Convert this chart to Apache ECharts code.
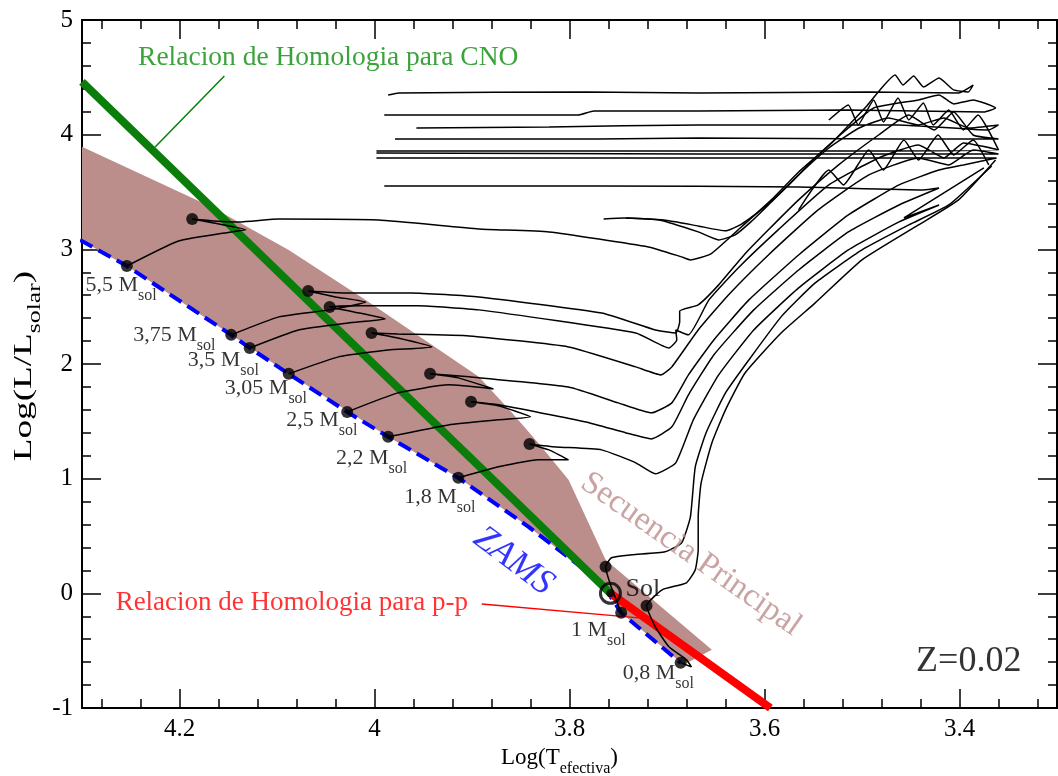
<!DOCTYPE html>
<html>
<head>
<meta charset="utf-8">
<title>Diagrama HR</title>
<script src="https://cdn.jsdelivr.net/npm/echarts@6/dist/echarts.min.js"></script>
<style>
  html, body { margin: 0; padding: 0; background: #fff; }
  #chart { width: 1058px; height: 776px; }
</style>
</head>
<body>
<div id="chart"></div>
<script>
// ejes
var xMajor = [3.4, 3.6, 3.8, 4.0, 4.2];
var xMinor = [3.32, 3.36, 3.44, 3.48, 3.52, 3.56, 3.64, 3.68, 3.72, 3.76,
              3.84, 3.88, 3.92, 3.96, 4.04, 4.08, 4.12, 4.16, 4.24, 4.28];

// banda de secuencia principal [logT, logL]
var band = [[4.302, 3.902], [4.167, 3.370], [4.088, 2.995], [4.009, 2.559], [3.893, 1.888],
            [3.859, 1.574], [3.832, 1.312], [3.801, 0.990], [3.763, 0.292], [3.654, -0.493],
            [3.683, -0.623], [3.747, -0.170], [3.767, 0.092], [3.842, 0.580], [3.914, 1.007],
            [3.986, 1.365], [4.088, 1.914], [4.147, 2.254], [4.254, 2.855], [4.302, 3.082]];

var zams = [[4.302, 3.082], [4.254, 2.855], [4.147, 2.254], [4.128, 2.140], [4.088, 1.914],
            [4.028, 1.582], [3.986, 1.365], [3.914, 1.007], [3.842, 0.580], [3.767, 0.092],
            [3.747, -0.170], [3.686, -0.606]];

var cnoLine = [[4.30, 4.46], [3.758, 0.0]];
var ppLine = [[3.758, 0.0], [3.594, -1.0]];
var cnoLeader = [[4.154, 4.512], [4.225, 3.893]];
var ppLeader = [[3.890, -0.092], [3.729, -0.214]];

// trazas evolutivas
var track55 = [[4.254, 2.855], [4.201, 3.073], [4.147, 3.152], [4.132, 3.170], [4.165, 3.230], [4.187, 3.265],
  [4.165, 3.248], [4.139, 3.239], [4.098, 3.265], [3.996, 3.256], [3.893, 3.178], [3.821, 3.152],
  [3.719, 3.021], [3.685, 2.934], [3.676, 2.908], [3.655, 2.960], [3.627, 3.170], [3.593, 3.431],
  [3.565, 3.675], [3.531, 3.928], [3.496, 4.242], [3.466, 4.520], [3.458, 4.433], [3.447, 4.512],
  [3.437, 4.416], [3.421, 4.494], [3.406, 4.390], [3.391, 4.372], [3.386, 4.433], [3.401, 4.364],
  [3.493, 4.372], [3.668, 4.364], [3.782, 4.372], [3.975, 4.364], [3.986, 4.346]];
var trackE1 = [[3.765, 3.265], [3.744, 3.274], [3.703, 3.256], [3.668, 3.204], [3.640, 3.161], [3.625, 3.213],
  [3.606, 3.326], [3.575, 3.562], [3.545, 3.823], [3.514, 4.058], [3.488, 4.233], [3.442, 4.303],
  [3.421, 4.346], [3.406, 4.268], [3.386, 4.303], [3.363, 4.233], [3.375, 4.198], [3.514, 4.215],
  [3.668, 4.207], [3.775, 4.207], [3.791, 4.172], [3.924, 4.172], [3.990, 4.172]];
var trackE2 = [[3.742, 3.274], [3.708, 3.256], [3.668, 3.152], [3.647, 3.082], [3.630, 3.126], [3.614, 3.239],
  [3.596, 3.387], [3.565, 3.649], [3.534, 3.884], [3.503, 4.058], [3.473, 4.146], [3.442, 4.085],
  [3.416, 4.146], [3.391, 4.058], [3.360, 4.085], [3.370, 4.041], [3.462, 4.085], [3.668, 4.085],
  [3.821, 4.067], [3.957, 4.058]];
var track375 = [[4.147, 2.254], [4.098, 2.411], [4.046, 2.472], [4.009, 2.541], [4.040, 2.585], [4.068, 2.637],
  [4.030, 2.620], [3.962, 2.620], [3.893, 2.585], [3.767, 2.445], [3.712, 2.297], [3.691, 2.271],
  [3.687, 2.367], [3.687, 2.462], [3.668, 2.515], [3.647, 2.690], [3.621, 2.951], [3.596, 3.170],
  [3.565, 3.431], [3.524, 3.736], [3.483, 3.997], [3.452, 4.172], [3.426, 4.041], [3.406, 4.198],
  [3.386, 3.997], [3.360, 3.963], [3.462, 3.963], [3.668, 3.971], [3.770, 3.963], [3.979, 3.963]];
var track35 = [[4.128, 2.140], [4.078, 2.297], [4.027, 2.358], [3.989, 2.393], [4.021, 2.454], [4.046, 2.498],
  [4.016, 2.507], [3.955, 2.507], [3.893, 2.472], [3.732, 2.271], [3.698, 2.140], [3.690, 2.210],
  [3.691, 2.297], [3.678, 2.254], [3.657, 2.559], [3.627, 2.838], [3.586, 3.170], [3.534, 3.562],
  [3.483, 3.797], [3.442, 3.910], [3.416, 3.797], [3.396, 3.928], [3.360, 3.867], [3.565, 3.858],
  [3.770, 3.858], [3.998, 3.858]];
var track305 = [[4.088, 1.914], [4.037, 2.062], [3.986, 2.123], [3.941, 2.149], [3.976, 2.227], [4.003, 2.271],
  [3.976, 2.262], [3.903, 2.245], [3.801, 2.149], [3.732, 1.975], [3.706, 1.905], [3.695, 1.975],
  [3.668, 2.297], [3.637, 2.602], [3.596, 2.951], [3.545, 3.344], [3.493, 3.649], [3.442, 3.797],
  [3.411, 3.736], [3.386, 3.867], [3.360, 3.832], [3.668, 3.832], [3.998, 3.840]];
var track25 = [[4.028, 1.582], [3.976, 1.748], [3.924, 1.818], [3.878, 1.783], [3.914, 1.879], [3.943, 1.914],
  [3.903, 1.888], [3.801, 1.800], [3.750, 1.661], [3.716, 1.574], [3.695, 1.661], [3.678, 1.905],
  [3.652, 2.210], [3.616, 2.559], [3.565, 2.951], [3.514, 3.300], [3.462, 3.562], [3.421, 3.692],
  [3.396, 3.736], [3.362, 3.797], [3.668, 3.797], [3.998, 3.797]];
var track22 = [[3.986, 1.365], [3.924, 1.469], [3.873, 1.513], [3.840, 1.539], [3.873, 1.635], [3.901, 1.670],
  [3.873, 1.644], [3.783, 1.495], [3.742, 1.399], [3.716, 1.347], [3.695, 1.452], [3.678, 1.731],
  [3.652, 2.079], [3.611, 2.472], [3.565, 2.820], [3.514, 3.152], [3.462, 3.387], [3.421, 3.535],
  [3.437, 3.518], [3.565, 3.544], [3.770, 3.553], [3.990, 3.553]];
var track18 = [[3.914, 1.007], [3.873, 1.103], [3.832, 1.164], [3.801, 1.164], [3.821, 1.251], [3.841, 1.303],
  [3.814, 1.277], [3.767, 1.251], [3.732, 1.138], [3.712, 1.042], [3.691, 1.138], [3.673, 1.513],
  [3.647, 1.905], [3.611, 2.297], [3.565, 2.664], [3.514, 2.995], [3.462, 3.239], [3.421, 3.387],
  [3.457, 3.274], [3.375, 3.710]];
var track10 = [[3.747, -0.170], [3.752, -0.057], [3.758, 0.074], [3.763, 0.231], [3.757, 0.310], [3.736, 0.336],
  [3.702, 0.362], [3.685, 0.440], [3.676, 0.667], [3.671, 1.103], [3.660, 1.399], [3.640, 1.748],
  [3.616, 2.036], [3.583, 2.411], [3.548, 2.707], [3.500, 2.995], [3.452, 3.213], [3.411, 3.387],
  [3.367, 3.727]];
var track08 = [[3.686, -0.606], [3.675, -0.641], [3.680, -0.580], [3.698, -0.466], [3.712, -0.292], [3.721, -0.109],
  [3.705, 0.031], [3.680, 0.092], [3.671, 0.205], [3.668, 0.379], [3.668, 0.667], [3.665, 0.963],
  [3.654, 1.312], [3.640, 1.600], [3.620, 1.922], [3.583, 2.271], [3.548, 2.533], [3.500, 2.908],
  [3.442, 3.213], [3.401, 3.431], [3.363, 3.779]];
var noiseA = [[3.534, 4.128], [3.514, 4.259], [3.504, 4.085], [3.488, 4.303], [3.478, 4.111], [3.463, 4.320],
  [3.452, 4.128], [3.437, 4.276], [3.427, 4.085], [3.411, 4.215], [3.396, 4.041], [3.381, 4.172], [3.360, 3.867]];
var noiseB = [[3.565, 3.344], [3.534, 3.692], [3.519, 3.562], [3.493, 3.867], [3.478, 3.692], [3.457, 3.954],
  [3.442, 3.779], [3.422, 3.997], [3.406, 3.823], [3.386, 3.954], [3.370, 3.736]];
var tracks = [track55, trackE1, trackE2, track375, track35, track305, track25, track22, track18, track10, track08, noiseA, noiseB];

// puntos ZAMS y fin de secuencia principal
var zamsDots = [[4.254, 2.855], [4.147, 2.254], [4.128, 2.140], [4.088, 1.914], [4.028, 1.582],
                [3.986, 1.365], [3.914, 1.007], [3.747, -0.170], [3.686, -0.606]];
var tamsDots = [[4.187, 3.265], [4.068, 2.637], [4.046, 2.498], [4.003, 2.271], [3.943, 1.914],
                [3.901, 1.670], [3.841, 1.303], [3.763, 0.231], [3.721, -0.109]];
var sun = [3.758, 0.0];

// etiquetas de masa
var massNames = ['5,5', '3,75', '3,5', '3,05', '2,5', '2,2', '1,8', '1', '0,8'];
var massLabelAt = [[4.296, 2.777], [4.247, 2.341], [4.191, 2.123], [4.153, 1.879], [4.090, 1.600],
                   [4.039, 1.269], [3.969, 0.929], [3.798, -0.231], [3.745, -0.606]];

var noteText = ['Relacion de Homologia para CNO', 'Relacion de Homologia para p-p', 'ZAMS',
                'Secuencia Principal', 'Sol', 'Z=0.02'];
var noteAt = [[4.242, 4.669], [4.265, -0.092], [3.857, 0.275], [3.675, 0.336], [3.742, 0.031], [3.444, -0.597]];

var serif = 'Liberation Serif';
var green = '#0a7d0a';
var rosy = '#bb8d8b';
var noteStyle = [
  { color: '#0a8c0a', fontSize: 27.5, align: 'left', verticalAlign: 'middle', rotate: 0 },
  { color: '#ff0000', fontSize: 27, align: 'left', verticalAlign: 'middle', rotate: 0 },
  { color: '#0000ff', fontSize: 36, fontStyle: 'italic', align: 'center', verticalAlign: 'middle', rotate: -37 },
  { color: rosy, fontSize: 33, align: 'center', verticalAlign: 'middle', rotate: -35 },
  { color: '#000', fontSize: 26, align: 'left', verticalAlign: 'middle', rotate: 0 },
  { color: '#000', fontSize: 36, align: 'left', verticalAlign: 'middle', rotate: 0 }
];

var myChart = echarts.init(document.getElementById('chart'));

function fmtX(v) { return String(parseFloat(v.toFixed(1))); }

function xAx(pos, vals, len, withLabel) {
  return {
    type: 'value', position: pos, min: 3.3, max: 4.3, inverse: true,
    axisLine: { show: true, onZero: false, lineStyle: { color: '#000', width: 2 } },
    axisTick: { show: true, inside: true, length: len, customValues: vals, lineStyle: { color: '#000', width: 1.5 } },
    axisLabel: withLabel ? { show: true, customValues: xMajor, margin: 9, color: '#000', fontFamily: serif, fontSize: 25, formatter: fmtX } : { show: false },
    splitLine: { show: false }
  };
}
function yAx(pos, withLabel) {
  return {
    type: 'value', position: pos, min: -1, max: 5, interval: 1,
    axisLine: { show: true, onZero: false, lineStyle: { color: '#000', width: 2 } },
    axisTick: { show: true, inside: true, length: 19, lineStyle: { color: '#000', width: 1.5 } },
    minorTick: { show: true, splitNumber: 5, length: 9, lineStyle: { color: '#000', width: 1.5 } },
    axisLabel: withLabel ? { show: true, margin: 9, color: '#000', fontFamily: serif, fontSize: 25 } : { show: false },
    splitLine: { show: false }
  };
}

var xBottom = xAx('bottom', xMajor, 19, true);
xBottom.name = '{m|Log(T}{s|efectiva}{m|)}';
xBottom.nameLocation = 'middle';
xBottom.nameGap = 22;
xBottom.nameTextStyle = {
  padding: [0, 20, 0, 0],
  rich: {
    m: { fontSize: 23, fontFamily: serif, color: '#000', verticalAlign: 'top' },
    s: { fontSize: 16, fontFamily: serif, color: '#000', verticalAlign: 'top', padding: [14, 0, 0, 0] }
  }
};

var series = [];
series.push({
  type: 'custom', z: 1, silent: true, clip: true,
  data: [[4.0, 2.0]],
  renderItem: function (params, api) {
    var pts = band.map(function (p) { return api.coord(p); });
    return { type: 'polygon', shape: { points: pts }, style: { fill: rosy } };
  }
});
tracks.forEach(function (t) {
  series.push({
    type: 'line', data: t, z: 5, showSymbol: false, silent: true, smooth: 0.15,
    lineStyle: { color: '#000', width: 1.5 }
  });
});
series.push({ type: 'line', data: zams, z: 3, showSymbol: false, silent: true,
  lineStyle: { color: '#0000ff', width: 4, type: [14, 7] } });
series.push({ type: 'line', data: cnoLine, z: 4, showSymbol: false, silent: true,
  lineStyle: { color: green, width: 8 } });
series.push({ type: 'line', data: ppLine, z: 4, showSymbol: false, silent: true,
  lineStyle: { color: '#ff0000', width: 8 } });
series.push({ type: 'line', data: cnoLeader, z: 6, showSymbol: false, silent: true,
  lineStyle: { color: green, width: 1.5 } });
series.push({ type: 'line', data: ppLeader, z: 6, showSymbol: false, silent: true,
  lineStyle: { color: '#ff0000', width: 1.5 } });
series.push({ type: 'scatter', data: zamsDots.concat(tamsDots), z: 7, silent: true,
  symbolSize: 12, itemStyle: { color: '#000' } });
series.push({ type: 'scatter', data: [sun], z: 8, silent: true, symbolSize: 20,
  itemStyle: { color: 'rgba(0,0,0,0)', borderColor: '#000', borderWidth: 3 } });
series.push({ type: 'scatter', data: [sun], z: 8, silent: true, symbolSize: 8,
  itemStyle: { color: '#000' } });
series.push({
  type: 'scatter', z: 9, silent: true, symbolSize: 1, itemStyle: { color: 'rgba(0,0,0,0)' },
  data: massLabelAt.map(function (p, i) { return { value: p, name: massNames[i] }; }),
  label: {
    show: true, position: [0, 0], align: 'left', verticalAlign: 'top',
    formatter: function (p) { return '{m|' + p.name + ' M}{s|sol}'; },
    rich: {
      m: { fontSize: 22, fontFamily: serif, color: '#000', verticalAlign: 'top' },
      s: { fontSize: 16, fontFamily: serif, color: '#000', verticalAlign: 'top', padding: [13, 0, 0, 0] }
    }
  }
});
series.push({
  type: 'scatter', z: 9, silent: true, symbolSize: 1, itemStyle: { color: 'rgba(0,0,0,0)' },
  data: noteAt.map(function (p, i) {
    var s = noteStyle[i];
    return {
      value: p, name: noteText[i],
      label: { show: true, position: [0, 0], formatter: noteText[i], color: s.color, fontSize: s.fontSize,
        fontStyle: s.fontStyle || 'normal', fontFamily: serif, align: s.align, verticalAlign: s.verticalAlign, rotate: s.rotate }
    };
  })
});

var option = {
  animation: false,
  backgroundColor: '#fff',
  textStyle: { fontFamily: serif },
  grid: { left: 82, right: 1, top: 20, bottom: 68, containLabel: false, outerBoundsMode: 'none' },
  xAxis: [xBottom, xAx('bottom', xMinor, 9, false), xAx('top', xMajor, 19, false), xAx('top', xMinor, 9, false)],
  yAxis: [yAx('left', true), yAx('right', false)],
  // titulo del eje Y, estirado como en la figura original
  graphic: [{
    type: 'text', x: 28, y: 366, rotation: Math.PI / 2, scaleX: 1.43, silent: true,
    style: {
      text: '{m|Log(L/L}{s|solar}{m|)}', align: 'center', verticalAlign: 'middle',
      rich: {
        m: { fontSize: 26, fontFamily: serif, fill: '#000', verticalAlign: 'top' },
        s: { fontSize: 18, fontFamily: serif, fill: '#000', verticalAlign: 'top', padding: [15, 0, 0, 0] }
      }
    }
  }],
  series: series
};
myChart.setOption(option, true);
</script>
</body>
</html>
